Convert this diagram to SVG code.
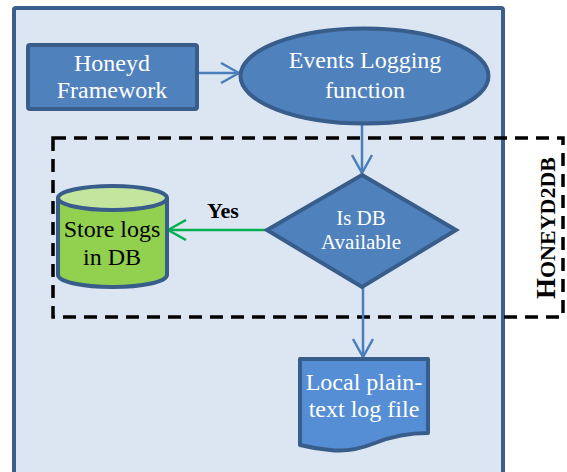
<svg xmlns="http://www.w3.org/2000/svg" width="567" height="472" viewBox="0 0 567 472" font-family="'Liberation Serif', 'Times New Roman', serif">
<style>
.node{fill:#4f81bd;stroke:#385d8a;stroke-width:4}
.lbl{font-size:24px;fill:#ffffff;text-anchor:middle}
.dark{fill:#000000}
.blue{stroke:#4a7ebb;stroke-width:2.5;fill:none}
.green{stroke:#00b050;stroke-width:2.5;fill:none}
</style>
<defs>
<marker id="ab" markerUnits="userSpaceOnUse" viewBox="0 0 20 22" refX="19" refY="11" markerWidth="20" markerHeight="22" orient="auto">
<path d="M1,1 L19,11 L1,21" fill="none" stroke="#4a7ebb" stroke-width="2.5"/>
</marker>
<marker id="ag" markerUnits="userSpaceOnUse" viewBox="0 0 20 22" refX="19" refY="11" markerWidth="20" markerHeight="22" orient="auto">
<path d="M1,1 L19,11 L1,21" fill="none" stroke="#00b050" stroke-width="2.5"/>
</marker>
</defs>
<rect id="frame" x="14" y="8" width="489" height="480" rx="2" fill="#dce6f2" stroke="#3b5e8c" stroke-width="4"/>
<g id="honeyd2db">
<rect x="53" y="138" width="510" height="179" fill="none" stroke="#000" stroke-width="3.5" stroke-dasharray="13 8"/>
<text transform="translate(555,228) rotate(-90)" text-anchor="middle" font-family="'Liberation Serif', 'Times New Roman', serif" font-weight="bold" font-size="22" fill="#000"><tspan font-size="27">H</tspan>ONEYD2DB</text>
</g>
<g id="connectors">
<line class="blue" x1="197" y1="73" x2="239" y2="73" marker-end="url(#ab)"/>
<line class="blue" x1="362" y1="124" x2="362" y2="173" marker-end="url(#ab)"/>
<line class="green" x1="267" y1="230" x2="168" y2="230" marker-end="url(#ag)"/>
<line class="blue" x1="363" y1="287" x2="363" y2="357" marker-end="url(#ab)"/>
<text x="223" y="218" text-anchor="middle" font-family="'Liberation Serif', 'Times New Roman', serif" font-weight="bold" font-size="22" fill="#000">Yes</text>
</g>
<g id="honeyd" font-family="'Liberation Serif', 'Times New Roman', serif">
<rect class="node" x="28" y="45" width="169" height="64" rx="2"/>
<text class="lbl" x="112" y="71">Honeyd</text>
<text class="lbl" x="112" y="98">Framework</text>
</g>
<g id="events" font-family="'Liberation Serif', 'Times New Roman', serif">
<ellipse class="node" cx="364.5" cy="76" rx="124" ry="47.5"/>
<text class="lbl" x="365" y="68">Events Logging</text>
<text class="lbl" x="365" y="98">function</text>
</g>
<g id="isdb" font-family="'Liberation Serif', 'Times New Roman', serif">
<polygon class="node" points="362,175 456,230 362,287 267,230"/>
<text class="lbl" x="361" y="225" font-size="21" style="font-size:21px">Is DB</text>
<text class="lbl" x="361" y="249" style="font-size:21px">Available</text>
</g>
<g id="store" font-family="'Liberation Serif', 'Times New Roman', serif">
<path d="M58,198 V275 A54.5,12 0 0 0 167,275 V198" fill="#92d050" stroke="#385d8a" stroke-width="4"/>
<ellipse cx="112.5" cy="198" rx="54.5" ry="12" fill="#c3e59e" stroke="#385d8a" stroke-width="4"/>
<text class="lbl dark" x="112" y="237">Store logs</text>
<text class="lbl dark" x="112" y="265">in DB</text>
</g>
<g id="logfile" font-family="'Liberation Serif', 'Times New Roman', serif">
<path d="M300,359 H428 V433 C405,433 390,437 375,443 C360,449 345,452 330,450 C318,449 308,447 300,445 Z" fill="#558ed5" stroke="#385d8a" stroke-width="4" stroke-linejoin="round"/>
<text class="lbl" x="364" y="390">Local plain-</text>
<text class="lbl" x="364" y="417">text log file</text>
</g>
</svg>
